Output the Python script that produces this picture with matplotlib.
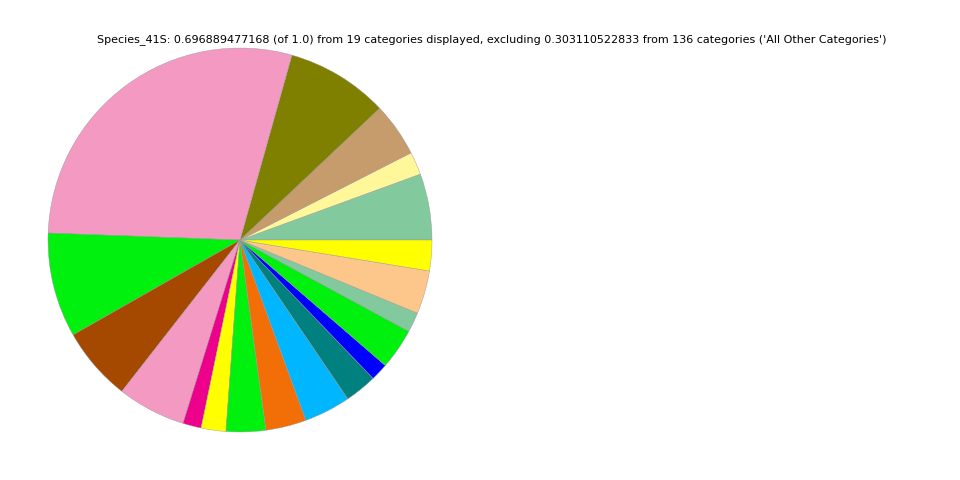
import matplotlib
matplotlib.use("Agg")
import matplotlib.pyplot as plt

categories = [f"cat{i}" for i in range(1, 20)]
# slice fractions of the whole (sum ~0.6969), read counterclockwise from east
values = [0.0389, 0.0134, 0.0316, 0.0600, 0.2006, 0.0614, 0.0434, 0.0401,
          0.0108, 0.0145, 0.0232, 0.0238, 0.0273, 0.0188, 0.0103, 0.0240,
          0.0116, 0.0254, 0.0180]
colors = ["#82C99E", "#FFF799", "#C69C6D", "#808000", "#F49AC2", "#00F10E",
          "#A54800", "#F49AC2", "#EC008C", "#FFFF00", "#00F10E", "#F26F07",
          "#00B7FF", "#00817F", "#0000FF", "#00F10E", "#82C99E", "#FDC68A",
          "#FFFF00"]
title = ("Species_41S: 0.696889477168 (of 1.0) from 19 categories displayed, "
         "excluding 0.303110522833 from 136 categories ('All Other Categories')")

fig = plt.figure(figsize=(9.6, 4.8), dpi=100)
ax = fig.add_axes([0.05, 0.1, 0.4, 0.8])
ax.pie(values, colors=colors, startangle=0, counterclock=True,
       wedgeprops=dict(edgecolor="#999999", linewidth=0.3))
ax.set_xlim(-1, 1)
ax.set_ylim(-1, 1)
ax.set_aspect("equal")
ax.axis("off")
fig.text(0.5125, 1 - 40 / 480, title, ha="center", va="center", fontsize=8)
fig.savefig("out.png", dpi=100)
